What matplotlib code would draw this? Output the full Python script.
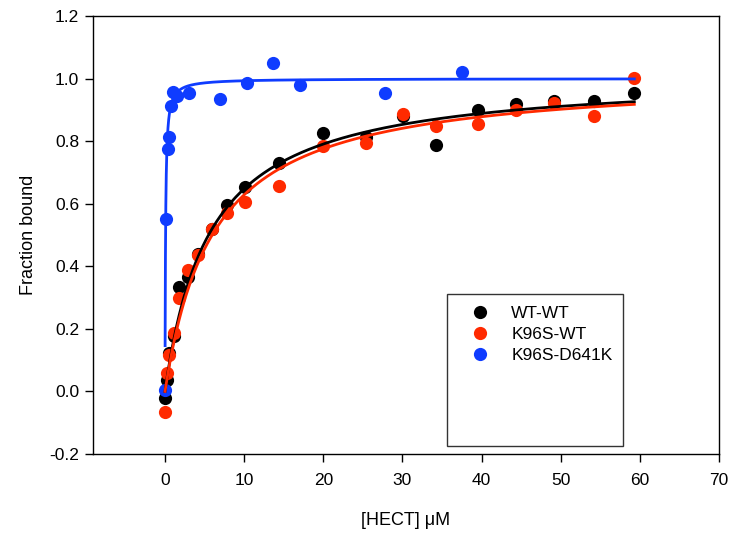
import numpy as np
import matplotlib.pyplot as plt
from matplotlib.patches import Rectangle

plt.rcParams['font.family'] = ['Liberation Sans', 'DejaVu Sans']
plt.rcParams['font.size'] = 12

# WT-WT and K96S-WT share the same titration points
x_wt = [0, 0.2, 0.5, 1.1, 1.8, 2.9, 4.2, 5.9, 7.85, 10.1, 14.4, 19.9,
        25.4, 30.1, 34.2, 39.5, 44.4, 49.2, 54.2, 59.2]
y_wtwt = [-0.022, 0.036, 0.124, 0.177, 0.333, 0.367, 0.44, 0.52, 0.596, 0.654, 0.729, 0.825,
          0.812, 0.88, 0.787, 0.899, 0.919, 0.929, 0.927, 0.953]
y_k96s = [-0.065, 0.06, 0.116, 0.186, 0.30, 0.388, 0.436, 0.518, 0.571, 0.604, 0.656, 0.784,
          0.795, 0.886, 0.848, 0.855, 0.90, 0.923, 0.881, 1.003]

x_d641k = [0, 0.1, 0.4, 0.55, 0.7, 0.95, 1.55, 3.0, 6.9, 10.4, 13.6, 17.1, 27.8, 37.5]
y_d641k = [0.005, 0.552, 0.774, 0.812, 0.912, 0.958, 0.944, 0.953, 0.934, 0.985, 1.049, 0.979, 0.955, 1.02]

# one-site binding fits (Bmax, Kd)
fit_wtwt = (1.0144, 5.66)
fit_k96s = (1.012, 6.1)
fit_d641k = (1.0, 0.07)

black = 'black'
red = '#ff2a00'
blue = '#0f3cff'


def hyperbola(x, p):
    return p[0] * x / (p[1] + x)


fig = plt.figure(figsize=(7.3, 5.35), dpi=100)
ax = fig.add_axes([93 / 730, 1 - 454 / 535, 626 / 730, 438 / 535])

ax.plot(x_wt, y_wtwt, 'o', color=black, ms=9.5, mew=0, label='WT-WT', zorder=3)
ax.plot(x_wt, y_k96s, 'o', color=red, ms=9.5, mew=0, label='K96S-WT', zorder=3)
ax.plot(x_d641k, y_d641k, 'o', color=blue, ms=9.5, mew=0, label='K96S-D641K', zorder=3)

xs = np.linspace(0, 59.3, 400)
xb = np.geomspace(0.012, 59.3, 600)
ax.plot(xs, hyperbola(xs, fit_wtwt), color=black, lw=2.0, zorder=4)
ax.plot(xs, hyperbola(xs, fit_k96s), color=red, lw=2.0, zorder=4)
ax.plot(xb, hyperbola(xb, fit_d641k), color=blue, lw=2.0, zorder=4)

ax.set_xlim(-9.1, 70)
ax.set_ylim(-0.2, 1.2)
ax.set_xticks(range(0, 71, 10))
ax.set_yticks(np.arange(-0.2, 1.21, 0.2))
ax.set_yticklabels(['%.1f' % v for v in np.arange(-0.2, 1.21, 0.2)])
ax.tick_params(direction='out', length=6, width=1, labelsize=12.5)
ax.tick_params(axis='x', pad=8)
ax.tick_params(axis='y', pad=4)
for s in ax.spines.values():
    s.set_linewidth(1)

ax.set_xlabel('[HECT] μM', fontsize=13, labelpad=17)
ax.set_ylabel('Fraction bound', fontsize=13, labelpad=9)

# legend box is larger than its entries
ax.add_patch(Rectangle((354 / 626, 8 / 438), 176 / 626, 152 / 438, transform=ax.transAxes,
                       fill=False, lw=1, edgecolor='#333333', zorder=5))
ax.legend(loc='upper left', bbox_to_anchor=(0.5904, 0.339), frameon=False,
          borderpad=0, borderaxespad=0, labelspacing=0.35, handletextpad=0.8, fontsize=12.5)

fig.savefig('out.png', dpi=100)
